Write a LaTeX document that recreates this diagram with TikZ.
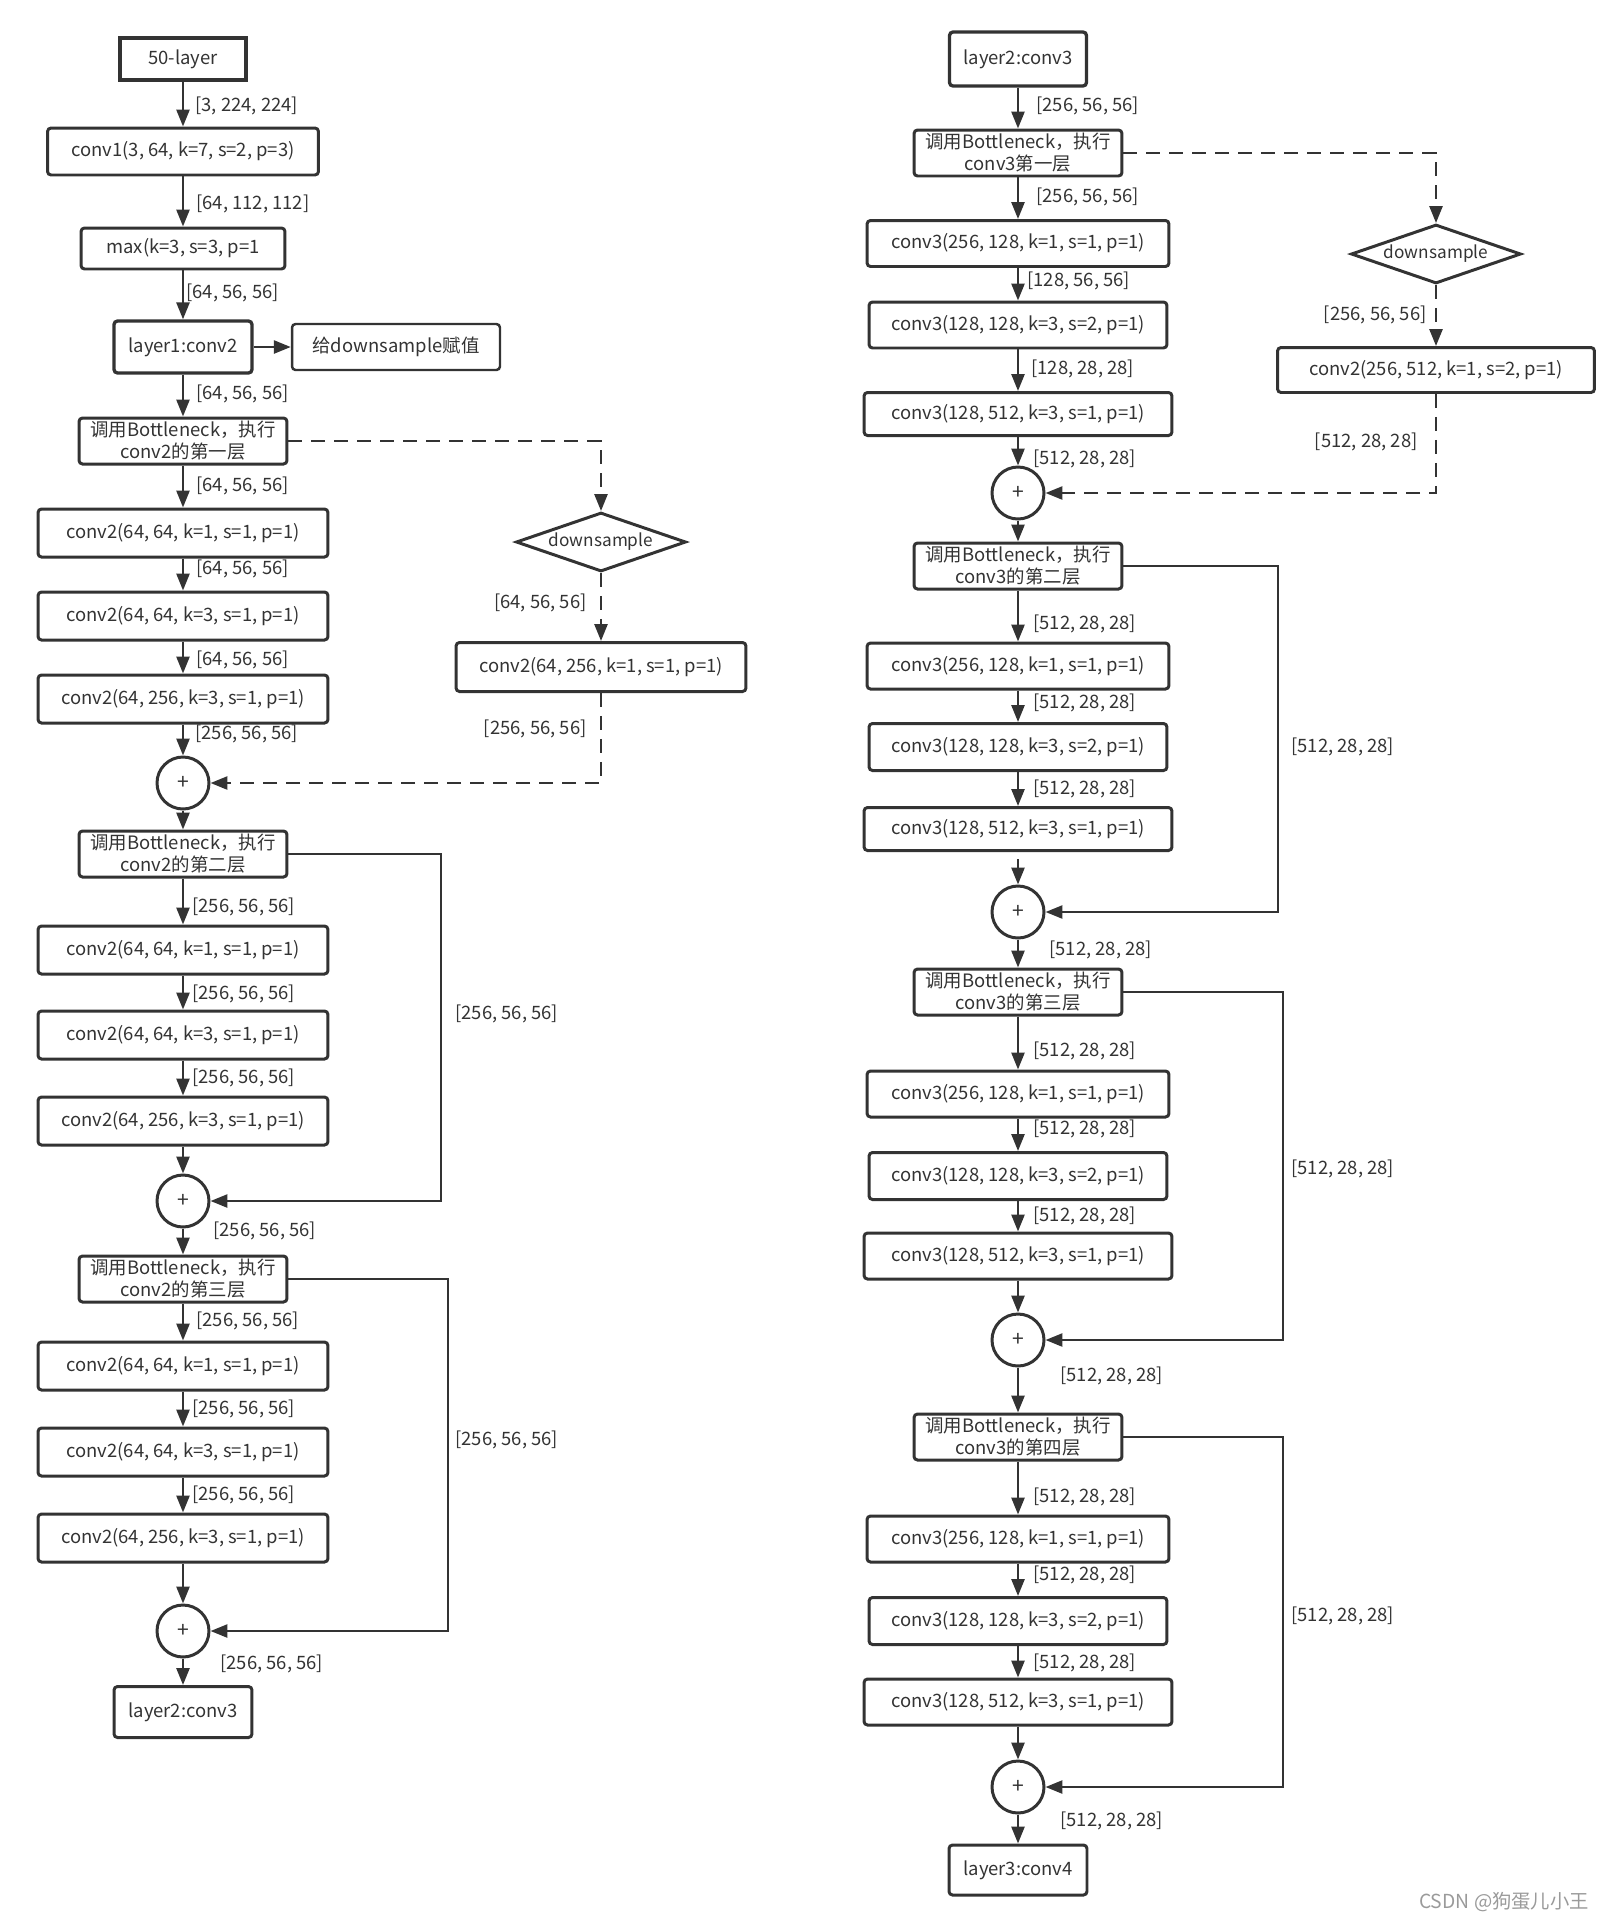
\documentclass[tikz,border=0pt]{standalone}
\usepackage{fontspec}
\setmainfont{Noto Sans CJK SC}
\usetikzlibrary{arrows.meta,shapes.geometric}
\definecolor{ink}{HTML}{333333}
\definecolor{mark}{HTML}{9A9A9A}

\begin{document}
\begin{tikzpicture}[
    x=0.02cm, y=-0.02cm,
    font=\fontsize{10.5}{13}\selectfont, text=ink,
    blk/.style={draw=ink, line width=1.7pt, rounded corners=2pt, align=center,
                inner sep=0pt, minimum height=0.94cm},
    term/.style={blk, line width=1.9pt, minimum width=2.76cm, minimum height=1.04cm},
    bneck/.style={blk, minimum width=4.16cm, minimum height=0.92cm,
                  font=\fontsize{10.5}{12.5}\selectfont},
    conv/.style={blk, minimum width=5.8cm, minimum height=0.96cm},
    add/.style={draw=ink, line width=1.7pt, circle, minimum size=1.04cm, inner sep=0pt,
                font=\fontsize{12}{14}\selectfont},
    dsamp/.style={draw=ink, line width=1.7pt, diamond, aspect=2.8, inner sep=0pt,
                  minimum width=3.4cm, minimum height=1.18cm,
                  font=\fontsize{9.8}{12}\selectfont},
    flow/.style={draw=ink, line width=1.5pt, -{Triangle[length=0.34cm,width=0.26cm]}},
    skip/.style={flow, dash pattern=on 0.28cm off 0.18cm},
    lab/.style={anchor=west, inner sep=0pt},
    labr/.style={anchor=east, inner sep=0pt}
]
\useasboundingbox (0,0) rectangle (1606,1928);

% ---- left column: layer1 / conv2
\node[blk, rounded corners=0pt, line width=1.9pt, minimum width=2.52cm, minimum height=0.84cm]
    (inLayer) at (183,59) {50-layer};
\node[blk, minimum width=5.42cm] (convOne) at (183,151.5) {conv1(3, 64, k=7, s=2, p=3)};
\node[blk, minimum width=4.08cm, minimum height=0.82cm] (maxPool) at (183,248.5) {max(k=3, s=3, p=1};
\node[term] (layerOne) at (183,347) {layer1:conv2};
\node[blk, line width=1.4pt, minimum width=4.16cm, minimum height=0.92cm]
    (dsNote) at (396,347) {给downsample赋值};

\node[bneck] (bnA1) at (183,441) {调用Bottleneck，执行\\conv2的第一层};
\node[conv] (cA11) at (183,533) {conv2(64, 64, k=1, s=1, p=1)};
\node[conv] (cA12) at (183,616) {conv2(64, 64, k=3, s=1, p=1)};
\node[conv] (cA13) at (183,699) {conv2(64, 256, k=3, s=1, p=1)};
\node[add] (addA1) at (183,783) {+};
\node[dsamp] (dsA) at (601,542) {downsample};
\node[conv, minimum height=0.98cm] (dcA) at (601,667) {conv2(64, 256, k=1, s=1, p=1)};

\node[bneck] (bnA2) at (183,854) {调用Bottleneck，执行\\conv2的第二层};
\node[conv] (cA21) at (183,950) {conv2(64, 64, k=1, s=1, p=1)};
\node[conv] (cA22) at (183,1035) {conv2(64, 64, k=3, s=1, p=1)};
\node[conv] (cA23) at (183,1121) {conv2(64, 256, k=3, s=1, p=1)};
\node[add] (addA2) at (183,1201) {+};

\node[bneck] (bnA3) at (183,1279) {调用Bottleneck，执行\\conv2的第三层};
\node[conv] (cA31) at (183,1366) {conv2(64, 64, k=1, s=1, p=1)};
\node[conv] (cA32) at (183,1452) {conv2(64, 64, k=3, s=1, p=1)};
\node[conv] (cA33) at (183,1538) {conv2(64, 256, k=3, s=1, p=1)};
\node[add] (addA3) at (183,1631) {+};
\node[term, line width=1.7pt, minimum height=1.02cm] (layerTwo) at (183,1712) {layer2:conv3};

\coordinate (sideA2) at (441,0);
\coordinate (sideA3) at (448,0);

\draw[flow] (inLayer) -- (convOne);
\draw[flow] (convOne) -- (maxPool);
\draw[flow] (maxPool) -- (layerOne);
\draw[flow] (layerOne) -- (dsNote);
\draw[flow] (layerOne) -- (bnA1);
\draw[flow] (bnA1) -- (cA11);
\draw[flow] (cA11) -- (cA12);
\draw[flow] (cA12) -- (cA13);
\draw[flow] (cA13) -- (addA1);
\draw[skip] (bnA1.east) -| (dsA.north);
\draw[skip] (dsA) -- (dcA);
\draw[skip] (dcA.south) |- (addA1.east);
\draw[flow] (addA1) -- (bnA2);
\draw[flow] (bnA2) -- (cA21);
\draw[flow] (cA21) -- (cA22);
\draw[flow] (cA22) -- (cA23);
\draw[flow] (cA23) -- (addA2);
\draw[flow] (bnA2.east) -- (bnA2.east -| sideA2) |- (addA2.east);
\draw[flow] (addA2) -- (bnA3);
\draw[flow] (bnA3) -- (cA31);
\draw[flow] (cA31) -- (cA32);
\draw[flow] (cA32) -- (cA33);
\draw[flow] (cA33) -- (addA3);
\draw[flow] (bnA3.east) -- (bnA3.east -| sideA3) |- (addA3.east);
\draw[flow] (addA3) -- (layerTwo);

% ---- right column: layer2 / conv3
\node[term, minimum width=2.74cm, minimum height=1.08cm] (layerTwoB) at (1018,59) {layer2:conv3};
\node[bneck] (bnB1) at (1018,153) {调用Bottleneck，执行\\conv3第一层};
\node[conv, minimum width=6.04cm, minimum height=0.92cm] (cB11) at (1018,243.5) {conv3(256, 128, k=1, s=1, p=1)};
\node[conv, minimum width=5.96cm, minimum height=0.92cm] (cB12) at (1018,325) {conv3(128, 128, k=3, s=2, p=1)};
\node[conv, minimum width=6.16cm, minimum height=0.86cm] (cB13) at (1018,414) {conv3(128, 512, k=3, s=1, p=1)};
\node[add] (addB1) at (1018,493) {+};
\node[dsamp] (dsB) at (1436,254) {downsample};
\node[conv, minimum width=6.34cm, minimum height=0.9cm] (dcB) at (1436,370) {conv2(256, 512, k=1, s=2, p=1)};

\node[bneck] (bnB2) at (1018,566) {调用Bottleneck，执行\\conv3的第二层};
\node[conv, minimum width=6.04cm, minimum height=0.92cm] (cB21) at (1018,666) {conv3(256, 128, k=1, s=1, p=1)};
\node[conv, minimum width=5.96cm, minimum height=0.94cm] (cB22) at (1018,747) {conv3(128, 128, k=3, s=2, p=1)};
\node[conv, minimum width=6.16cm, minimum height=0.86cm] (cB23) at (1018,829) {conv3(128, 512, k=3, s=1, p=1)};
\node[add] (addB2) at (1018,912) {+};

\node[bneck] (bnB3) at (1018,992) {调用Bottleneck，执行\\conv3的第三层};
\node[conv, minimum width=6.04cm, minimum height=0.92cm] (cB31) at (1018,1094) {conv3(256, 128, k=1, s=1, p=1)};
\node[conv, minimum width=5.96cm, minimum height=0.94cm] (cB32) at (1018,1176) {conv3(128, 128, k=3, s=2, p=1)};
\node[conv, minimum width=6.16cm, minimum height=0.92cm] (cB33) at (1018,1256) {conv3(128, 512, k=3, s=1, p=1)};
\node[add] (addB3) at (1018,1340) {+};

\node[bneck] (bnB4) at (1018,1437) {调用Bottleneck，执行\\conv3的第四层};
\node[conv, minimum width=6.04cm, minimum height=0.92cm] (cB41) at (1018,1539) {conv3(256, 128, k=1, s=1, p=1)};
\node[conv, minimum width=5.96cm, minimum height=0.94cm] (cB42) at (1018,1621) {conv3(128, 128, k=3, s=2, p=1)};
\node[conv, minimum width=6.16cm, minimum height=0.92cm] (cB43) at (1018,1702) {conv3(128, 512, k=3, s=1, p=1)};
\node[add] (addB4) at (1018,1787) {+};
\node[term, line width=1.7pt, minimum height=1.0cm] (layerThree) at (1018,1870) {layer3:conv4};

\coordinate (sideB2) at (1278,0);
\coordinate (sideB3) at (1283,0);

\draw[flow] (layerTwoB) -- (bnB1);
\draw[flow] (bnB1) -- (cB11);
\draw[flow] (cB11) -- (cB12);
\draw[flow] (cB12) -- (cB13);
\draw[flow] (cB13) -- (addB1);
\draw[skip] (bnB1.east) -| (dsB.north);
\draw[skip] (dsB) -- (dcB);
\draw[skip] (dcB.south) |- (addB1.east);
\draw[flow] (addB1) -- (bnB2);
\draw[flow] (bnB2) -- (cB21);
\draw[flow] (cB21) -- (cB22);
\draw[flow] (cB22) -- (cB23);
\draw[flow, shorten <=0.14cm] (cB23) -- (addB2);
\draw[flow] (bnB2.east) -- (bnB2.east -| sideB2) |- (addB2.east);
\draw[flow] (addB2) -- (bnB3);
\draw[flow] (bnB3) -- (cB31);
\draw[flow] (cB31) -- (cB32);
\draw[flow] (cB32) -- (cB33);
\draw[flow] (cB33) -- (addB3);
\draw[flow] (bnB3.east) -- (bnB3.east -| sideB3) |- (addB3.east);
\draw[flow] (addB3) -- (bnB4);
\draw[flow] (bnB4) -- (cB41);
\draw[flow] (cB41) -- (cB42);
\draw[flow] (cB42) -- (cB43);
\draw[flow] (cB43) -- (addB4);
\draw[flow] (bnB4.east) -- (bnB4.east -| sideB3) |- (addB4.east);
\draw[flow] (addB4) -- (layerThree);

% ---- tensor shapes
\foreach \x/\y/\t [count=\i] in {
    195/106/{[3, 224, 224]}, 196/204/{[64, 112, 112]}, 186/293/{[64, 56, 56]},
    196/394/{[64, 56, 56]}, 196/486/{[64, 56, 56]}, 196/569/{[64, 56, 56]},
    196/660/{[64, 56, 56]}, 195/734/{[256, 56, 56]},
    192/907/{[256, 56, 56]}, 192/994/{[256, 56, 56]}, 192/1078/{[256, 56, 56]},
    213/1231/{[256, 56, 56]}, 455/1014/{[256, 56, 56]},
    196/1321/{[256, 56, 56]}, 192/1409/{[256, 56, 56]}, 192/1495/{[256, 56, 56]},
    220/1664/{[256, 56, 56]}, 455/1440/{[256, 56, 56]},
    1036/106/{[256, 56, 56]}, 1036/197/{[256, 56, 56]}, 1027/281/{[128, 56, 56]},
    1031/369/{[128, 28, 28]}, 1033/459/{[512, 28, 28]},
    1033/624/{[512, 28, 28]}, 1033/703/{[512, 28, 28]}, 1033/789/{[512, 28, 28]},
    1049/950/{[512, 28, 28]}, 1291/747/{[512, 28, 28]},
    1033/1051/{[512, 28, 28]}, 1033/1129/{[512, 28, 28]}, 1033/1216/{[512, 28, 28]},
    1060/1376/{[512, 28, 28]}, 1291/1169/{[512, 28, 28]},
    1033/1497/{[512, 28, 28]}, 1033/1575/{[512, 28, 28]}, 1033/1663/{[512, 28, 28]},
    1060/1821/{[512, 28, 28]}, 1291/1616/{[512, 28, 28]}
}{
    \node[lab] (dim\i) at (\x,\y) {\t};
}
\node[labr] (dimDsA1) at (587,603) {[64, 56, 56]};
\node[labr] (dimDsA2) at (587,729) {[256, 56, 56]};
\node[labr] (dimDsB1) at (1427,315) {[256, 56, 56]};
\node[labr] (dimDsB2) at (1418,442) {[512, 28, 28]};

\node[text=mark, font=\fontsize{11}{13}\selectfont] (wmark) at (1504,1902) {CSDN @狗蛋儿小王};

\end{tikzpicture}
\end{document}
